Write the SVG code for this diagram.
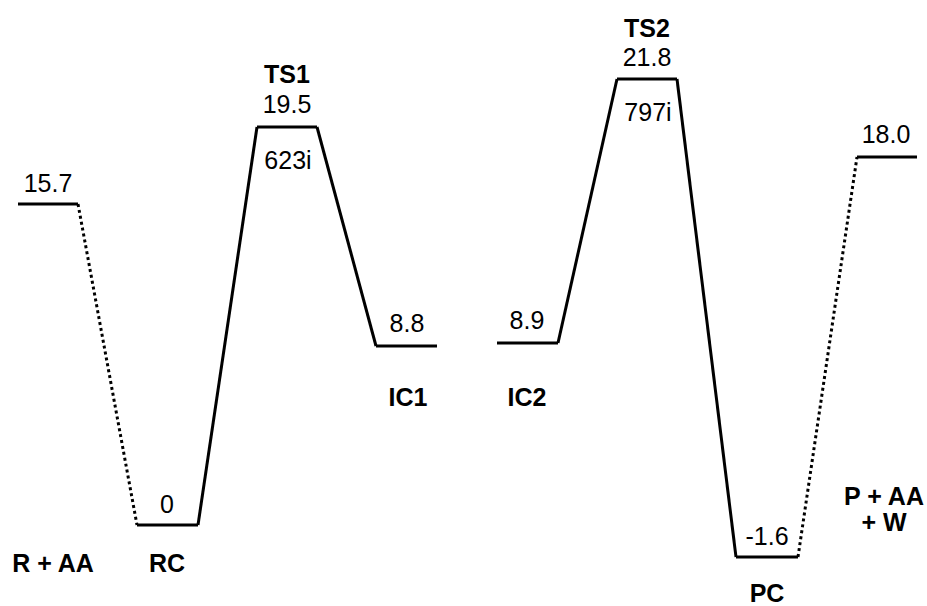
<svg xmlns="http://www.w3.org/2000/svg" width="927" height="606" viewBox="0 0 927 606">
  <style>
    .lvl { stroke: #000; stroke-width: 3; fill: none; }
    .path { stroke: #000; stroke-width: 3; fill: none; }
    .dot { stroke: #000; stroke-width: 3; fill: none; stroke-dasharray: 3 3; }
    .val { font-family: "Liberation Sans", Arial, sans-serif; font-size: 25px; text-anchor: middle; fill: #000; }
    .name { font-family: "Liberation Sans", Arial, sans-serif; font-size: 25px; font-weight: bold; text-anchor: middle; fill: #000; }
  </style>
  <rect width="927" height="606" fill="#fff"/>

  <!-- connectors between energy levels -->
  <g id="connectors">
    <line class="dot" x1="78" y1="204" x2="137" y2="525"/>
    <line class="path" x1="198" y1="525" x2="257" y2="127"/>
    <line class="path" x1="317" y1="127" x2="376" y2="346"/>
    <line class="path" x1="558" y1="343" x2="617" y2="79"/>
    <line class="path" x1="677" y1="79" x2="736" y2="557"/>
    <line class="dot" x1="798" y1="557" x2="857" y2="157"/>
  </g>

  <g id="R_AA">
    <line class="lvl" x1="18" y1="204" x2="78" y2="204"/>
    <text class="val" x="48" y="192">15.7</text>
    <text class="name" x="53" y="572">R + AA</text>
  </g>
  <g id="RC">
    <line class="lvl" x1="137" y1="525" x2="198" y2="525"/>
    <text class="val" x="167" y="513">0</text>
    <text class="name" x="167" y="572">RC</text>
  </g>
  <g id="TS1">
    <line class="lvl" x1="257" y1="127" x2="317" y2="127"/>
    <text class="name" x="287" y="83">TS1</text>
    <text class="val" x="287" y="113">19.5</text>
    <text class="val" x="288" y="169">623i</text>
  </g>
  <g id="IC1">
    <line class="lvl" x1="376" y1="346" x2="437" y2="346"/>
    <text class="val" x="407" y="332">8.8</text>
    <text class="name" x="408" y="406">IC1</text>
  </g>
  <g id="IC2">
    <line class="lvl" x1="497" y1="343" x2="558" y2="343"/>
    <text class="val" x="527" y="329">8.9</text>
    <text class="name" x="527" y="406">IC2</text>
  </g>
  <g id="TS2">
    <line class="lvl" x1="617" y1="79" x2="677" y2="79"/>
    <text class="name" x="647" y="37">TS2</text>
    <text class="val" x="647" y="66">21.8</text>
    <text class="val" x="648" y="121">797i</text>
  </g>
  <g id="PC">
    <line class="lvl" x1="736" y1="557" x2="798" y2="557"/>
    <text class="val" x="767" y="545">-1.6</text>
    <text class="name" x="767" y="602">PC</text>
  </g>
  <g id="P_AA_W">
    <line class="lvl" x1="857" y1="157" x2="917" y2="157"/>
    <text class="val" x="886" y="143">18.0</text>
    <text class="name" x="884" y="505">P + AA</text>
    <text class="name" x="884" y="531">+ W</text>
  </g>
</svg>
